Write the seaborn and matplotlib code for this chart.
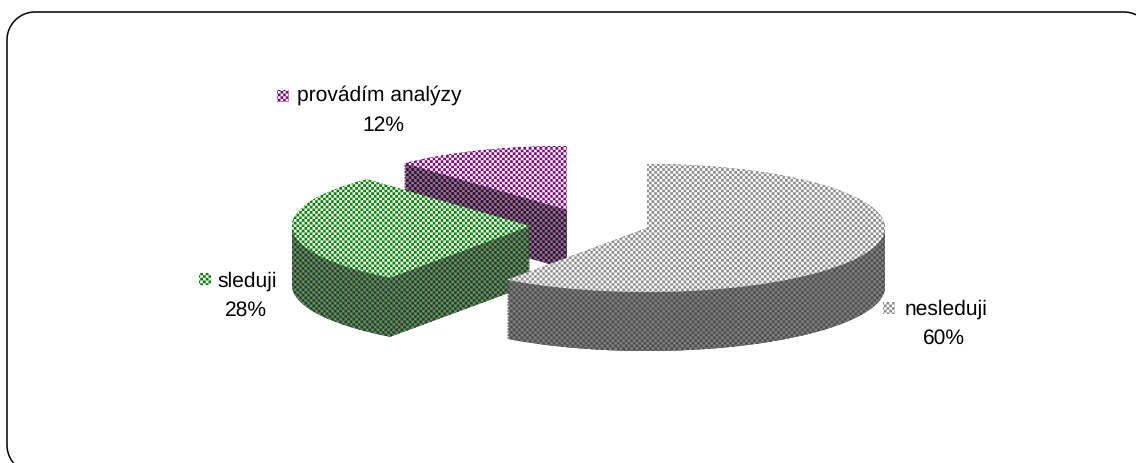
import numpy as np
import matplotlib
matplotlib.use("Agg")
import matplotlib.pyplot as plt
import seaborn as sns
from matplotlib.patches import PathPatch
from matplotlib.path import Path
from matplotlib.transforms import Affine2D

categories = ["nesleduji", "sleduji", "provádím analýzy"]
shares = [60, 28, 12]

W, H = 1136, 463
RX, RY, DEPTH = 238.0, 64.0, 59
centres_px = [(647, 228), (530, 226), (567, 210)]
top_cols = [("#8c8c8c", "#ffffff"), ("#008000", "#ffffff"), ("#800080", "#ffffff")]
side_cols = [("#4d4d4d", "#808080"), ("#0c4f0c", "#808080"), ("#400040", "#808080")]
label_px = [((905, 309), (944, 338), (883, 302)),
            ((217, 281), (246, 310), (199, 273)),
            ((297, 95), (383, 125), (277, 90))]
CELL = 2.67
SS = 4

sns.set_theme(style="white")
plt.rcParams["font.family"] = ["Liberation Sans", "DejaVu Sans"]
plt.rcParams["text.hinting"] = "none"
plt.rcParams["text.hinting_factor"] = 1

fig = plt.figure(figsize=(W / 100, H / 100), dpi=100, facecolor="white")
ax = fig.add_axes([0, 0, 1, 1])


def ux(px):
    return px / RX


def uy(py):
    return -py / RY


extent = (ux(0), ux(W), uy(H), uy(0))
yy, xx = np.mgrid[0:H * SS, 0:W * SS] / SS
fine = ((np.floor(xx / CELL) + np.floor(yy / CELL)) % 2)
mask = fine.reshape(H, SS, W, SS).mean(axis=(1, 3))[..., None]


def checker(c1, c2):
    a = np.array(matplotlib.colors.to_rgb(c1))
    b = np.array(matplotlib.colors.to_rgb(c2))
    return mask * a + (1 - mask) * b


def painted(path, cols, z):
    im = ax.imshow(checker(*cols), extent=extent, origin="upper", aspect="auto",
                   interpolation="nearest", zorder=z)
    im.set_clip_path(path, ax.transData)


def slice_layer(i, cx, cy, color, z):
    wedges, _ = ax.pie(shares, startangle=90, counterclock=False, radius=1,
                       center=(ux(cx), uy(cy)), frame=False,
                       wedgeprops=dict(linewidth=0))
    for j, w in enumerate(wedges):
        if j != i:
            w.remove()
    w = wedges[i]
    w.set_facecolor(color)
    w.set_zorder(z)
    return w.get_path().transformed(w.get_patch_transform())


for order, i in enumerate([2, 1, 0]):
    cx, cy = centres_px[i]
    z = 10 + order * 10
    paths = [slice_layer(i, cx, cy + d, side_cols[i][0], z)
             for d in np.arange(DEPTH, 0, -1.5)]
    painted(Path.make_compound_path(*paths), side_cols[i], z + 1)
    top = slice_layer(i, cx, cy, top_cols[i][0], z + 2)
    painted(top, top_cols[i], z + 3)

ax.axis("off")

# Rounded outer frame, running off the right and bottom of the canvas
pix = Affine2D().scale(1, -1).translate(0, H)
L, T, R, B, r = 7, 12, 1152, 473, 28
t = np.linspace(0, np.pi / 2, 24)
corners = [
    np.c_[L + r - r * np.cos(t), T + r - r * np.sin(t)],
    np.c_[R - r + r * np.sin(t), T + r - r * np.cos(t)],
    np.c_[R - r + r * np.cos(t), B - r + r * np.sin(t)],
    np.c_[L + r - r * np.sin(t), B - r + r * np.cos(t)],
]
outline = np.vstack(corners + [corners[0][:1]])
ax.add_patch(PathPatch(Path(outline), transform=pix, fill=False, edgecolor="black",
                       linewidth=1.1, zorder=60))

for i, name in enumerate(categories):
    (nx, ny), (px_, py_), (kx, ky) = label_px[i]
    fig.text(nx / W, 1 - ny / H, name, fontsize=15.3, color="black",
             ha="left", va="center", zorder=70)
    fig.text(px_ / W, 1 - py_ / H, f"{shares[i]}%", fontsize=15.3, color="black",
             ha="center", va="center", zorder=70)
    key = Path([(ux(kx), uy(ky)), (ux(kx + 12), uy(ky)), (ux(kx + 12), uy(ky + 12)),
                (ux(kx), uy(ky + 12)), (ux(kx), uy(ky))], closed=True)
    painted(key, top_cols[i], 65)

ax.set_xlim(ux(0), ux(W))
ax.set_ylim(uy(H), uy(0))
fig.savefig("out.png", dpi=100, facecolor="white")
